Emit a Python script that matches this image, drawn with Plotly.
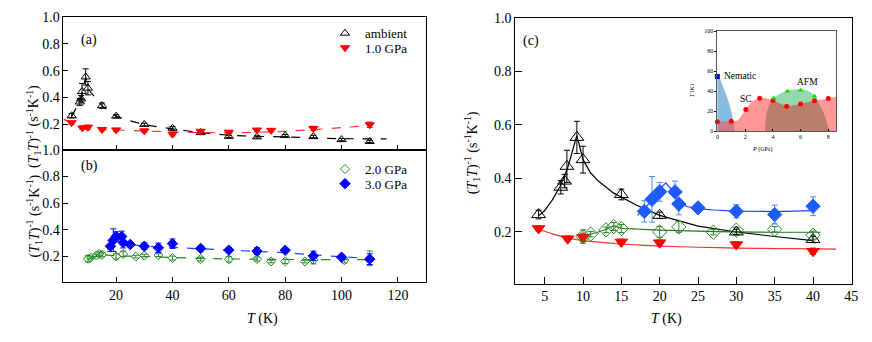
import plotly.graph_objects as go

FONT = "Liberation Serif, Times New Roman, serif"

# %% data: ambient pressure (black open triangles)
amb_t = [4.2, 7.1, 7.6, 7.9, 9.2, 10, 15, 20, 30, 40, 50, 60, 70, 80, 90, 100, 110]
amb_v = [0.265, 0.367, 0.39, 0.445, 0.553, 0.47, 0.34, 0.262, 0.20, 0.172, 0.14, 0.112, 0.108, 0.118, 0.11, 0.088, 0.074]
amb_e = [0.016, 0.025, 0.025, 0.06, 0.06, 0.05, 0.02, 0.012, 0.01, 0.012, 0.01, 0.008, 0.008, 0.008, 0.01, 0.008, 0.008]

# 1.0 GPa (red filled down triangles)
p1_t = [4.2, 8, 10, 15, 20, 30, 40, 50, 60, 70, 75, 90, 110]
p1_v = [0.213, 0.175, 0.18, 0.163, 0.16, 0.153, 0.128, 0.15, 0.143, 0.159, 0.157, 0.171, 0.198]
p1_e = [0.01, 0.01, 0.015, 0.01, 0.01, 0.01, 0.012, 0.01, 0.01, 0.01, 0.01, 0.015, 0.02]

# 2.0 GPa (green open diamonds)
p2_t = [10, 11, 13, 14, 15, 20, 22.5, 27, 30, 35, 40, 50, 60, 70, 75, 80, 87, 90, 101, 110]
p2_v = [0.183, 0.192, 0.208, 0.22, 0.213, 0.2, 0.219, 0.199, 0.207, 0.21, 0.188, 0.181, 0.179, 0.181, 0.163, 0.163, 0.162, 0.175, 0.172, 0.186]
p2_e = [0.025, 0.01, 0.01, 0.015, 0.015, 0.02, 0.02, 0.01, 0.01, 0.01, 0.015, 0.015, 0.02, 0.015, 0.01, 0.015, 0.01, 0.03, 0.02, 0.055]

# 3.0 GPa (blue filled diamonds)
p3_t = [18, 19, 20, 22, 22.5, 25, 30, 35, 40, 50, 60, 70, 80, 90, 100, 110]
p3_v = [0.277, 0.322, 0.35, 0.35, 0.304, 0.29, 0.277, 0.265, 0.296, 0.26, 0.248, 0.24, 0.247, 0.205, 0.195, 0.18]
p3_e = [0.04, 0.085, 0.035, 0.04, 0.04, 0.015, 0.025, 0.035, 0.035, 0.02, 0.015, 0.025, 0.015, 0.035, 0.015, 0.04]

# %% guide lines, panels (a)/(b) (dashed)
amb_fa_t = [4.2, 7, 8, 9.2, 10, 15, 20, 30, 40, 50, 60, 70, 80, 90, 100, 116]
amb_fa_v = [0.26, 0.37, 0.44, 0.55, 0.47, 0.34, 0.262, 0.2, 0.168, 0.14, 0.12, 0.112, 0.108, 0.1, 0.095, 0.093]
p1_fa_t = [1.3, 5, 10, 15, 20, 30, 40, 50, 60, 70, 80, 90, 100, 110]
p1_fa_v = [0.24, 0.205, 0.18, 0.167, 0.16, 0.152, 0.145, 0.14, 0.138, 0.142, 0.15, 0.162, 0.177, 0.193]
p2_fb_t = [10, 12, 14, 16, 20, 30, 40, 50, 60, 70, 80, 90, 100, 110]
p2_fb_v = [0.18, 0.195, 0.21, 0.212, 0.205, 0.2, 0.192, 0.186, 0.182, 0.18, 0.178, 0.177, 0.177, 0.177]
p3_fb_t = [17, 18.5, 20, 21, 22.5, 25, 30, 40, 50, 60, 70, 80, 90, 100, 110]
p3_fb_v = [0.25, 0.29, 0.34, 0.355, 0.31, 0.29, 0.278, 0.268, 0.258, 0.248, 0.238, 0.228, 0.212, 0.198, 0.185]

# guide lines, panel (c) (solid)
amb_fc_t = [4.2, 5, 6, 7, 8, 9.2, 10, 11, 12, 14, 17, 20, 25, 30, 35, 40]
amb_fc_v = [0.26, 0.28, 0.32, 0.37, 0.44, 0.56, 0.47, 0.42, 0.39, 0.345, 0.3, 0.262, 0.222, 0.2, 0.183, 0.168]
p1_fc_t = [4.2, 6, 8, 10, 12, 15, 20, 25, 30, 35, 40, 43]
p1_fc_v = [0.21, 0.193, 0.178, 0.168, 0.162, 0.155, 0.147, 0.143, 0.14, 0.138, 0.137, 0.136]
p2_fc_t = [10, 11, 12, 13, 14, 15, 17, 20, 25, 30, 35, 41]
p2_fc_v = [0.183, 0.192, 0.2, 0.21, 0.223, 0.214, 0.211, 0.207, 0.203, 0.2, 0.199, 0.199]
p3_fc_t = [17.1, 18, 19, 20, 20.8, 21.5, 22.3, 23.5, 25, 27, 30, 35, 40]
p3_fc_v = [0.262, 0.285, 0.32, 0.36, 0.383, 0.36, 0.322, 0.295, 0.287, 0.282, 0.278, 0.276, 0.28]

# %% inset phase diagram (region boundaries, P in GPa, T in K)
nem_p = [0, 0, 0.2, 0.4, 0.55, 0.8, 1.0, 1.15, 1.25]
nem_T = [0, 55, 52, 45, 40, 30, 20, 10, 0]
afm_p = [3.43, 3.55, 3.8, 3.95, 4.3, 5, 5.5, 6, 6.5, 7, 7.2, 7.3, 7.76, 8.05]
afm_T = [0, 18, 28, 31, 36, 40.5, 41.7, 41.7, 40.5, 36, 32, 28, 15, 0]
sc_p = [0, 0, 1, 1.45, 2.05, 2.5, 3.05, 3.5, 4, 5, 6, 7, 8, 8.6, 8.6]
sc_T = [0, 9.4, 10, 10.7, 21.7, 30, 33, 33, 30.7, 25, 27.2, 30.4, 32.7, 34, 0]
coex_p = [3.43, 3.55, 3.8, 4.0, 5, 6, 7, 7.3, 7.76, 8.05]
coex_T = [0, 18, 28, 30.7, 25, 27.2, 30.4, 28, 15, 0]
tc_p = [0, 1, 2.05, 3.05, 4, 5, 6, 7, 8]
tc_T = [9.4, 10, 21.7, 33, 30.7, 25, 27.2, 30.4, 32.7]
tn_p = [4.05, 5.05, 6, 7]
tn_T = [33, 40, 41, 35]
ts_p = [0]
ts_T = [54.7]

W, H = 872, 342
px = lambda v: v / W
py = lambda v: 1 - v / H

fig = go.Figure()

def pts(x, y, e, sym, col, ecol, size, xa, ya, name=None, legend=None):
    fig.add_trace(go.Scatter(
        x=x, y=y, mode="markers", name=name, xaxis=xa, yaxis=ya,
        showlegend=name is not None, legend=legend,
        marker=dict(symbol=sym, color=col, size=size, line=dict(color=col, width=1)),
        error_y=dict(type="data", array=e, color=ecol, thickness=1, width=3)))

def guide(x, y, col, xa, ya, dash):
    fig.add_trace(go.Scatter(x=x, y=y, mode="lines", xaxis=xa, yaxis=ya, showlegend=False,
                             line=dict(color=col, width=1.2, dash=dash, shape="spline", smoothing=0.5)))

BLK, RED, GRN, BLU = "black", "#ff0000", "#2a8a2a", "#0000ff"

# panel (a)
guide(amb_fa_t, amb_fa_v, BLK, "x", "y", "dash")
guide(p1_fa_t, p1_fa_v, "#ff3030", "x", "y", "dash")
pts(amb_t, amb_v, amb_e, "triangle-up-open", BLK, BLK, 8, "x", "y", "ambient", "legend")
pts(p1_t, p1_v, p1_e, "triangle-down", RED, RED, 8, "x", "y", "1.0 GPa", "legend2")

# panel (b)
guide(p2_fb_t, p2_fb_v, GRN, "x2", "y2", "dash")
guide(p3_fb_t, p3_fb_v, "#2040ff", "x2", "y2", "dash")
pts(p2_t, p2_v, p2_e, "diamond-open", GRN, GRN, 7, "x2", "y2", "2.0 GPa", "legend3")
pts(p3_t, p3_v, p3_e, "diamond", BLU, BLU, 8, "x2", "y2", "3.0 GPa", "legend4")

# panel (c)
fig.add_trace(go.Scatter(x=amb_fc_t, y=amb_fc_v, mode="lines", xaxis="x3", yaxis="y3", showlegend=False,
                         line=dict(color=BLK, width=1.2)))
guide(p1_fc_t, p1_fc_v, "#ff3030", "x3", "y3", "solid")
guide(p2_fc_t, p2_fc_v, "#1a7a1a", "x3", "y3", "solid")
fig.add_trace(go.Scatter(x=p3_fc_t, y=p3_fc_v, mode="lines", xaxis="x3", yaxis="y3", showlegend=False,
                         line=dict(color="#2040ff", width=1.2)))
pts(p1_t, p1_v, p1_e, "triangle-down", RED, RED, 11, "x3", "y3")
pts(p2_t, p2_v, p2_e, "diamond-open", GRN, GRN, 11, "x3", "y3")
pts(p3_t, p3_v, p3_e, "diamond", "#1e5bff", "#4a8cff", 11, "x3", "y3")
pts(amb_t, amb_v, amb_e, "triangle-up-open", BLK, BLK, 12, "x3", "y3")

# inset
def region(x, y, col):
    fig.add_trace(go.Scatter(x=x, y=y, mode="lines", fill="toself", fillcolor=col, xaxis="x4", yaxis="y4",
                             showlegend=False, hoverinfo="skip",
                             line=dict(width=0, shape="spline", smoothing=0.5)))

region(nem_p, nem_T, "rgb(135,188,225)")
region(afm_p, afm_T, "rgb(148,218,172)")
region(sc_p, sc_T, "rgba(255,75,75,0.58)")
region(coex_p, coex_T, "rgb(186,127,107)")
for x, y, sym, col in [(tc_p, tc_T, "circle", "#ff0000"), (tn_p, tn_T, "triangle-up", "#00e000"),
                       (ts_p, ts_T, "square", "#0000ff")]:
    fig.add_trace(go.Scatter(x=x, y=y, mode="markers", xaxis="x4", yaxis="y4", showlegend=False, cliponaxis=False,
                             marker=dict(symbol=sym, color=col, size=5)))

# %% axes
ax = dict(showline=True, linecolor="black", linewidth=1, mirror=True, ticks="inside", tickcolor="black",
          showgrid=False, zeroline=False, tickfont=dict(family=FONT, size=14, color="black"))
xl = [px(62), px(428)]
leg = dict(xanchor="left", yanchor="middle", bgcolor="rgba(0,0,0,0)",
           font=dict(family=FONT, size=13, color="black"), itemwidth=30)
fig.update_layout(
    xaxis=dict(ax, domain=xl, range=[1.3, 130], tickvals=[20, 40, 60, 80, 100, 120], showticklabels=False,
               anchor="y", ticklen=5),
    yaxis=dict(ax, domain=[py(147), py(10)], range=[0.013, 1.0], tickvals=[0.2, 0.4, 0.6, 0.8, 1.0],
               tickformat=".1f", anchor="x", ticklen=5),
    xaxis2=dict(ax, domain=xl, range=[1.3, 130], tickvals=[20, 40, 60, 80, 100, 120], anchor="y2", ticklen=5),
    yaxis2=dict(ax, domain=[py(283), py(147)], range=[0.011, 1.0], tickvals=[0.2, 0.4, 0.6, 0.8, 1.0],
                tickformat=".1f", anchor="x2", ticklen=5),
    xaxis3=dict(ax, domain=[px(518), px(858)], range=[1.16, 45.1], tickvals=[5, 10, 15, 20, 25, 30, 35, 40, 45],
                anchor="y3", ticklen=7),
    yaxis3=dict(ax, domain=[py(285), py(11)], range=[0.007, 1.0], tickvals=[0.2, 0.4, 0.6, 0.8, 1.0],
                tickformat=".1f", anchor="x3", ticklen=7),
    xaxis4=dict(ax, domain=[px(722), px(842)], range=[0, 8.57], tickvals=[0, 2, 4, 6, 8], anchor="y4",
                ticklen=2, tickfont=dict(family=FONT, size=6, color="black"), linecolor="#555"),
    yaxis4=dict(ax, domain=[py(128), py(25)], range=[0, 100], tickvals=[0, 20, 40, 60, 80, 100], anchor="x4",
                ticklen=2, ticks="outside", tickfont=dict(family=FONT, size=6, color="black"), linecolor="#555"),
    legend=dict(leg, x=px(326), y=py(27)),
    legend2=dict(leg, x=px(326), y=py(42)),
    legend3=dict(leg, x=px(326), y=py(167)),
    legend4=dict(leg, x=px(326), y=py(182)),
    width=W, height=H, margin=dict(l=0, r=0, t=0, b=0),
    plot_bgcolor="white", paper_bgcolor="white",
    font=dict(family=FONT, size=14, color="black"),
)

ytitle = "(<i>T</i><sub>1</sub><i>T</i>)<sup>-1</sup> (s<sup>-1</sup>K<sup>-1</sup>)"
notes = [
    dict(x=px(20), y=py(78), text=ytitle, textangle=-90),
    dict(x=px(20), y=py(215), text=ytitle, textangle=-90),
    dict(x=px(474), y=py(150), text=ytitle, textangle=-90),
    dict(x=px(245), y=py(332), text="<i>T</i> (K)"),
    dict(x=px(688), y=py(332), text="<i>T</i> (K)"),
    dict(x=px(78), y=py(24), text="(a)"),
    dict(x=px(78), y=py(164), text="(b)"),
    dict(x=px(534), y=py(25), text="(c)"),
    dict(x=px(702), y=py(78), text="<i>T</i> (K)", textangle=-90, font=dict(size=6)),
    dict(x=px(780), y=py(147), text="<i>P</i> (GPa)", font=dict(size=6)),
]
for n in notes:
    n.setdefault("font", dict(size=14))
    n["font"] = dict(family=FONT, color="black", **n["font"])
    fig.add_annotation(xref="paper", yref="paper", showarrow=False, **n)

for txt, x, y in [("Nematic", 1.6, 55), ("SC", 2.05, 32), ("AFM", 6.5, 49)]:
    fig.add_annotation(xref="x4", yref="y4", x=x, y=y, text=txt, showarrow=False,
                       font=dict(family=FONT, size=9.5, color="black"))

# page body has a default 8px margin; drop it so the figure sits at the window origin
fig.write_html("out.html", config={"displayModeBar": False},
               post_script="document.body.style.margin='0';")
